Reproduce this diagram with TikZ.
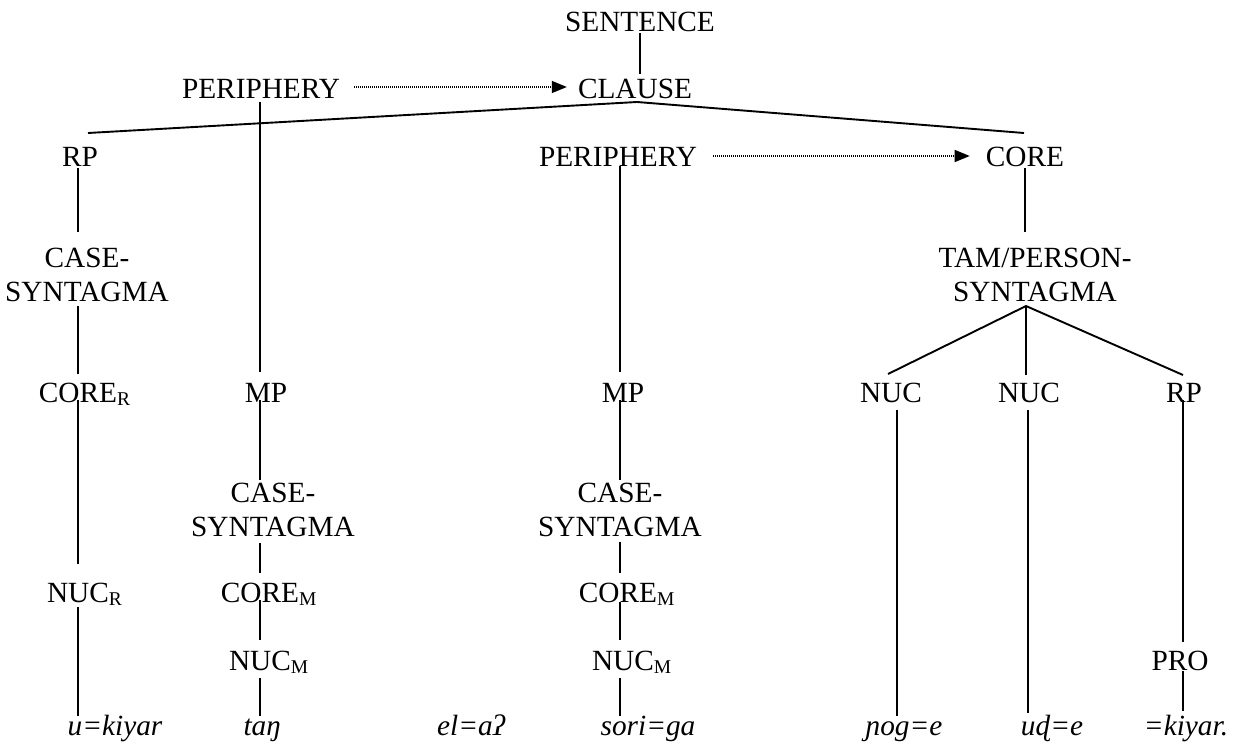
\documentclass[tikz,border=0pt]{standalone}
\usepackage{fontspec}
\setmainfont{Liberation Serif}
\usetikzlibrary{arrows.meta}
% subscript that does not widen its node, so the node centre stays on the main word
\newcommand{\lsub}[1]{\rlap{\raisebox{-2.5pt}{\fontsize{19.5}{20}\selectfont #1}}}

\begin{document}
\begin{tikzpicture}[x=1pt,y=-1pt,
  lbl/.style={inner sep=0pt, text height=19pt, text depth=0pt, anchor=center,
              font=\fontsize{29.3}{34}\selectfont},
  two/.style={inner sep=0pt, align=center, anchor=center,
              font=\fontsize{29.3}{34}\selectfont},
  word/.style={inner sep=0pt, text height=20pt, text depth=6pt, anchor=base,
               font=\fontsize{29.3}{34}\selectfont\itshape},
  tie/.style={line width=1.9pt},
  dotarrow/.style={line width=1.4pt, dash pattern=on 1pt off 1pt,
                   -{Triangle[length=15pt,width=12pt]}}]
\useasboundingbox (0,0) rectangle (1233,746);

% ---- labels ----
\node[lbl] (sent)   at (640,22)    {SENTENCE};
\node[lbl] (clause) at (635,89)    {CLAUSE};
\node[lbl] (per1)   at (261,89)    {PERIPHERY};
\node[lbl] (rp1)    at (80,157)    {RP};
\node[lbl] (per2)   at (618,157)   {PERIPHERY};
\node[lbl] (core)   at (1025,157)  {CORE};
\node[two] (cs1)    at (87,275)    {CASE-\\SYNTAGMA};
\node[two] (tam)    at (1035,275)  {TAM/PERSON-\\SYNTAGMA};
\node[lbl] (corer)  at (78,393)    {CORE\lsub{R}};
\node[lbl] (mp1)    at (266,393)   {MP};
\node[lbl] (mp2)    at (623,393)   {MP};
\node[lbl] (nuc1)   at (891,393)   {NUC};
\node[lbl] (nuc2)   at (1029,393)  {NUC};
\node[lbl] (rp2)    at (1184,393)  {RP};
\node[two] (cs2)    at (273,509.5) {CASE-\\SYNTAGMA};
\node[two] (cs3)    at (620,509.5) {CASE-\\SYNTAGMA};
\node[lbl] (nucr)   at (78,593)    {NUC\lsub{R}};
\node[lbl] (corem1) at (260,593)   {CORE\lsub{M}};
\node[lbl] (corem2) at (618,593)   {CORE\lsub{M}};
\node[lbl] (nucm1)  at (260,661)   {NUC\lsub{M}};
\node[lbl] (nucm2)  at (623,661)   {NUC\lsub{M}};
\node[lbl] (pro)    at (1180,661)  {PRO};

% ---- words ----
\node[word] (w1) at (115,735)  {u=kiyar};
\node[word] (w2) at (262,735)  {taŋ};
\node[word] (w3) at (471,735)  {el=aʔ};
\node[word] (w4) at (648,735)  {sori=ga};
\node[word] (w5) at (904,735)  {ɲog=e};
\node[word] (w6) at (1052,735) {uɖ=e};
\node[word] (w7) at (1186,735) {=kiyar.};

% ---- tree lines ----
\draw[tie] ([shift={(0,11)}]sent.center) -- ([shift={(5,-15)}]clause.center);
\draw[tie] ([shift={(8,-24)}]rp1.center) -- ([shift={(2,13)}]clause.center)
           -- ([shift={(-1,-24)}]core.center);
\draw[tie] ([shift={(-1,13)}]per1.center) -- ([shift={(-6,-21)}]mp1.center);
\draw[tie] ([shift={(-2,11)}]rp1.center) -- ([shift={(-9,-43)}]cs1.center);
\draw[tie] ([shift={(2,9)}]per2.center) -- ([shift={(-3,-21)}]mp2.center);
\draw[tie] ([shift={(0,11)}]core.center) -- ([shift={(-10,-43)}]tam.center);
\draw[tie] ([shift={(-9,31)}]cs1.center) -- ([shift={(0,-19)}]corer.center);
\draw[tie] ([shift={(-3,-19)}]nuc1.center) -- ([shift={(-9,31)}]tam.center)
           -- ([shift={(-1,-18)}]rp2.center);
\draw[tie] ([shift={(-9,31)}]tam.center) -- ([shift={(-3,-18)}]nuc2.center);
\draw[tie] ([shift={(0,7)}]corer.center) -- ([shift={(0,-29)}]nucr.center);
\draw[tie] ([shift={(-6,7)}]mp1.center) -- ([shift={(-13,-30)}]cs2.center);
\draw[tie] ([shift={(-3,7)}]mp2.center) -- ([shift={(0,-30)}]cs3.center);
\draw[tie] ([shift={(6,17)}]nuc1.center) -- ([shift={(-7,-12)}]w5.center);
\draw[tie] ([shift={(-1,17)}]nuc2.center) -- ([shift={(-24,-15)}]w6.center);
\draw[tie] ([shift={(-1,7)}]rp2.center) -- ([shift={(3,-19)}]pro.center);
\draw[tie] ([shift={(-13,33)}]cs2.center) -- ([shift={(0,-20)}]corem1.center);
\draw[tie] ([shift={(0,32)}]cs3.center) -- ([shift={(2,-20)}]corem2.center);
\draw[tie] ([shift={(0,7)}]corem1.center) -- ([shift={(0,-21)}]nucm1.center);
\draw[tie] ([shift={(2,9)}]corem2.center) -- ([shift={(-3,-21)}]nucm2.center);
\draw[tie] ([shift={(0,14)}]nucr.center) -- ([shift={(-37,-12)}]w1.center);
\draw[tie] ([shift={(0,17)}]nucm1.center) -- ([shift={(-2,-12)}]w2.center);
\draw[tie] ([shift={(-3,17)}]nucm2.center) -- ([shift={(-28,-12)}]w4.center);
\draw[tie] ([shift={(3,10)}]pro.center) -- ([shift={(-3,-17)}]w7.center);

% ---- dotted arrows from the peripheries ----
\draw[dotarrow] ([shift={(14,-2)}]per1.east) -- ([shift={(-11,-2)}]clause.west);
\draw[dotarrow] ([shift={(16,-1)}]per2.east) -- ([shift={(-16,-1)}]core.west);
\end{tikzpicture}
\end{document}
